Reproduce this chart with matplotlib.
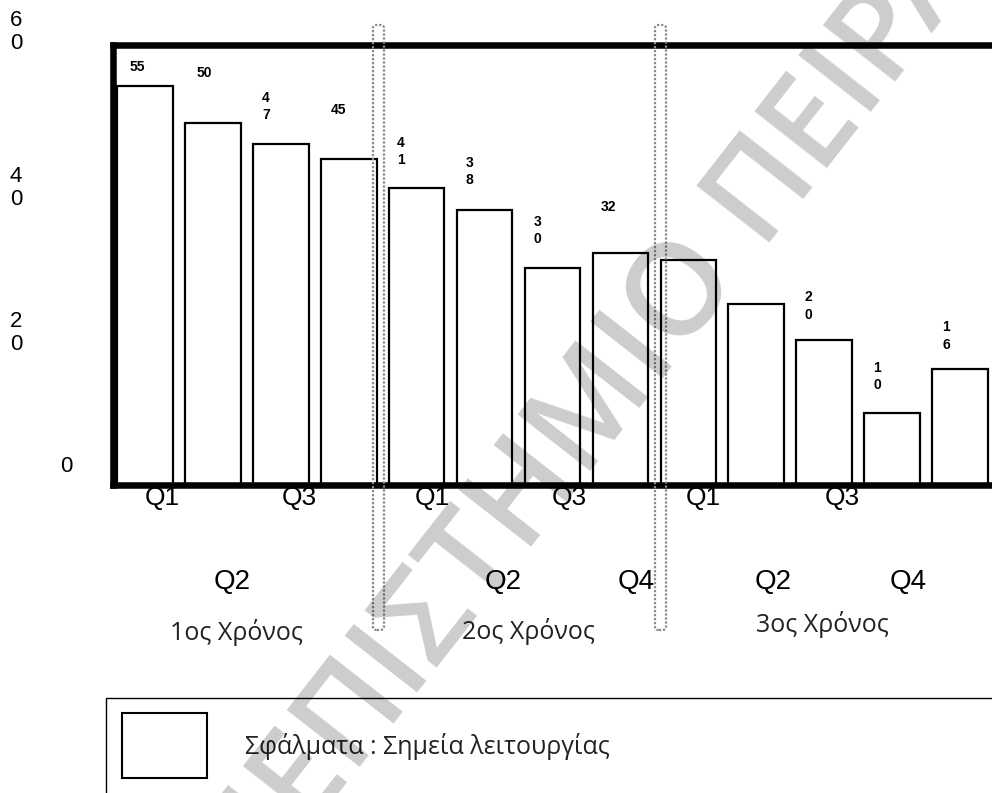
import matplotlib
matplotlib.use("Agg")
import matplotlib.pyplot as plt
from matplotlib.patches import Rectangle, FancyBboxPatch

# ---------------- data ----------------
quarters = ["Q1", "Q2", "Q3", "Q4", "Q1", "Q2", "Q3", "Q4", "Q1", "Q2", "Q3", "Q4", "Q1"]
errors = [55, 50, 47, 45, 41, 38, 30, 32, 31, 25, 20, 10, 16]
value_labels = ["55", "50", "4\n7", "45", "4\n1", "3\n8", "3\n0", "32", "", "", "2\n0", "1\n0", "1\n6"]
ytick_labels = ["0", "2\n0", "4\n0", "6\n0"]
row1_labels = ["Q1", "Q3", "Q1", "Q3", "Q1", "Q3"]
row2_labels = ["Q2", "Q2", "Q4", "Q2", "Q4"]
year_labels = ["1ος Χρόνος", "2ος Χρόνος", "3ος Χρόνος"]
legend_label = "Σφάλματα : Σημεία λειτουργίας"
watermark = "ΠΑΝΕΠΙΣΤΗΜΙΟ ΠΕΙΡΑΙΩΣ"

# ---------------- layout (pixels) ----------------
W, H = 992, 793
DPI = 100
label_offsets = [(-8, 19), (-9, 50), (-15, 38), (-10, 49), (-16, 36), (-15, 38), (-15, 37),
                 (-12, 46), (0, 0), (0, 0), (-16, 34), (-15, 36), (-14, 33)]
row1_x = [162, 299, 432, 569, 703, 842]
row2_x = [232, 503, 636, 773, 908]
year_x = [236, 528, 822]
year_y = [640, 639, 632]
ytick_px = [(66, 467), (16, 333), (16, 188), (16, 32)]

fig = plt.figure(figsize=(W / DPI, H / DPI), dpi=DPI)
fig.patch.set_facecolor("white")

ax_left, ax_right, ax_top, ax_bottom = 113, 992, 45, 485
ax = fig.add_axes([ax_left / W, 1 - ax_bottom / H, (ax_right - ax_left) / W, (ax_bottom - ax_top) / H])

x = list(range(len(errors)))
ax.bar(x, errors, width=0.82, color="white", edgecolor="black", linewidth=1.6, zorder=2)

ax.set_xlim(-0.47, 12.47)
ax.set_ylim(0, 60.7)

for side in ["left", "top", "bottom"]:
    ax.spines[side].set_linewidth(4.7)
    ax.spines[side].set_zorder(5)
ax.spines["right"].set_visible(False)

ax.set_xticks(x)
ax.set_xticklabels([])
ax.tick_params(axis="x", direction="in", length=10, width=1.3, colors="black")
ax.set_yticks([10, 20, 30, 40, 50])
ax.set_yticklabels([])
ax.tick_params(axis="y", direction="in", length=7, width=1.3)

# value labels
for i, (v, lab) in enumerate(zip(errors, value_labels)):
    if not lab:
        continue
    dx, dy = label_offsets[i]
    ax.annotate(lab, xy=(i, v), xytext=(dx, dy), textcoords="offset pixels",
                ha="center", va="center", fontsize=10, fontweight="bold",
                family="Liberation Sans", linespacing=1.3, zorder=4)

def fy(py):
    return 1 - py / H

def fx(px):
    return px / W

# y tick labels (manual, stacked digits)
for lab, (px, py) in zip(ytick_labels, ytick_px):
    fig.text(fx(px), fy(py), lab, ha="center", va="center", fontsize=16,
             family="Liberation Sans", linespacing=1.15)

# first row of quarter labels, partly hidden under the bottom spine
for lab, px in zip(row1_labels, row1_x):
    ax.text(fx(px), fy(505), lab, transform=fig.transFigure, ha="center", va="baseline",
            fontsize=19, family="Liberation Sans", clip_on=False, zorder=1)

# second row of quarter labels
for lab, px in zip(row2_labels, row2_x):
    fig.text(fx(px), fy(589), lab, ha="center", va="baseline", fontsize=20,
             family="Liberation Sans")

# year labels
for lab, px, py in zip(year_labels, year_x, year_y):
    fig.text(fx(px), fy(py), lab, ha="center", va="baseline", fontsize=18,
             family=["Open Sans", "DejaVu Sans"], color="#222222")

# dotted year separators
for x0, x1 in [(373, 384), (655, 666)]:
    sep = FancyBboxPatch((fx(x0), fy(630)), fx(x1) - fx(x0), fy(25) - fy(630),
                         boxstyle="round,pad=0,rounding_size=0.004",
                         transform=fig.transFigure, fill=False,
                         edgecolor="#8a8a8a", linewidth=1.6, linestyle=(0, (1, 0.8)),
                         zorder=10)
    fig.add_artist(sep)

# legend box
fig.add_artist(Rectangle((fx(106), fy(800)), fx(1000) - fx(106), fy(698) - fy(800),
                         transform=fig.transFigure, fill=False, edgecolor="black", linewidth=1.0))
fig.add_artist(Rectangle((fx(122), fy(778)), fx(207) - fx(122), fy(713) - fy(778),
                         transform=fig.transFigure, fill=False, edgecolor="black", linewidth=1.5))
fig.text(fx(245), fy(746), legend_label, ha="left", va="center", fontsize=18,
         family=["Open Sans", "DejaVu Sans"], color="#222222")

# watermark
fig.text(fx(600), fy(405), watermark, rotation=52, ha="center", va="center",
         fontsize=92, fontweight="semibold", family=["Open Sans", "DejaVu Sans"],
         color=(0, 0, 0, 0.2), zorder=20)

fig.savefig("out.png", dpi=DPI, facecolor="white")
